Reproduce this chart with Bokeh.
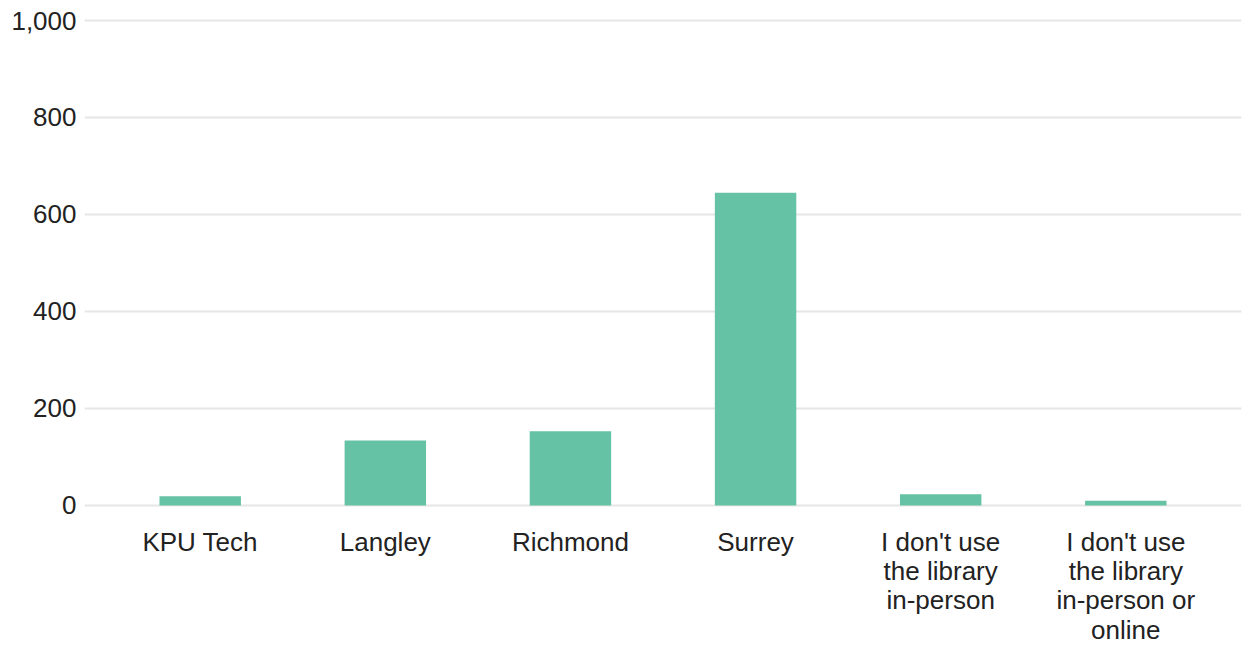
from bokeh.plotting import figure
from bokeh.models import FactorRange, Range1d, NumeralTickFormatter, FixedTicker, ColumnDataSource
from bokeh.embed import file_html
from bokeh.resources import INLINE

categories = ["KPU Tech", "Langley", "Richmond", "Surrey",
              "I don't use\nthe library\nin-person",
              "I don't use\nthe library\nin-person or\nonline"]
values = [19, 134, 153, 645, 23, 10]
y_ticks = [0, 200, 400, 600, 800, 1000]

FONT = "Liberation Sans"
TEXT_COLOR = "#222222"
BAR_COLOR = "#66c2a5"

source = ColumnDataSource(data=dict(cat=categories, val=values))

p = figure(
    x_range=FactorRange(*categories),
    y_range=Range1d(-8.3, 1016.5),
    frame_width=1157, frame_height=497,
    output_backend="svg", toolbar_location=None,
    min_border_left=84, min_border_right=1, min_border_top=12, min_border_bottom=4,
)
p.x_range.range_padding = 0.25 / 6
p.x_range.range_padding_units = "percent"

p.vbar(x="cat", top="val", bottom=0, width=0.44, source=source,
       fill_color=BAR_COLOR, line_color=None)

p.outline_line_color = None
p.background_fill_color = "white"
p.border_fill_color = "white"

p.xgrid.grid_line_color = None
p.ygrid.grid_line_color = "#e6e6e6"
p.ygrid.grid_line_width = 2
p.ygrid.ticker = FixedTicker(ticks=y_ticks)

p.yaxis.ticker = FixedTicker(ticks=y_ticks)
p.yaxis.formatter = NumeralTickFormatter(format="0,0")
for ax in (p.xaxis[0], p.yaxis[0]):
    ax.axis_line_color = None
    ax.major_tick_line_color = None
    ax.minor_tick_line_color = None
    ax.major_label_text_font = FONT
    ax.major_label_text_font_size = "26px"
    ax.major_label_text_color = TEXT_COLOR
    ax.major_label_text_line_height = 0.98
p.yaxis.major_label_standoff = 2
p.xaxis.major_label_standoff = 11

open("out.html", "w").write(file_html(p, INLINE))
